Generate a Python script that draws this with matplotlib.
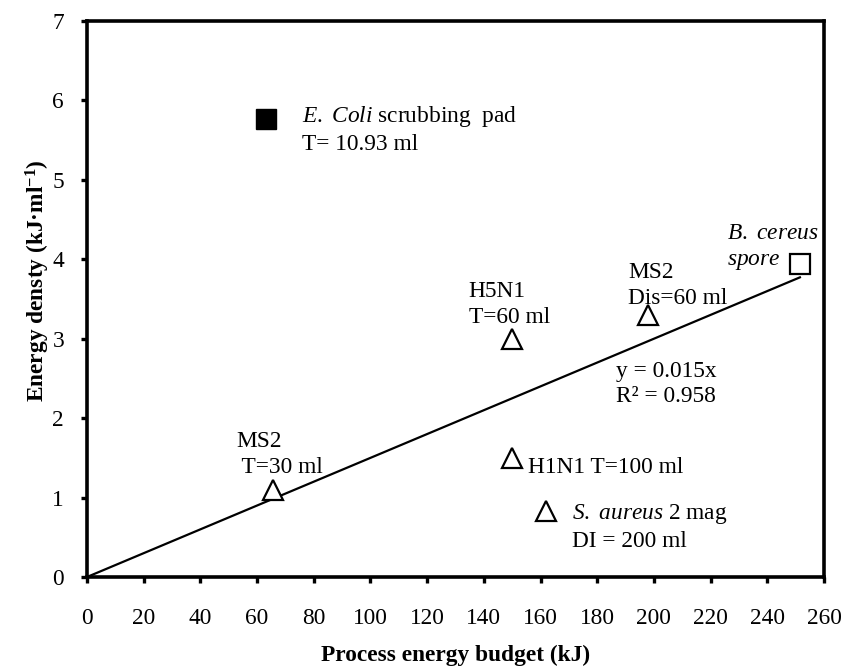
import numpy as np
import matplotlib
matplotlib.use("Agg")
import matplotlib.pyplot as plt

plt.rcParams['font.family'] = ['Liberation Serif', 'DejaVu Serif']
plt.rcParams['mathtext.fontset'] = 'custom'
plt.rcParams['mathtext.rm'] = 'Liberation Serif'
plt.rcParams['mathtext.it'] = 'Liberation Serif:italic'
plt.rcParams['mathtext.bf'] = 'Liberation Serif:bold'

# viral / bacterial runs (open triangles)
tri_x = [65.5, 150, 198, 150, 162]
tri_y = [1.10, 3.0, 3.30, 1.50, 0.83]
# E. coli scrubbing pad (filled square)
coli_x = [63]
coli_y = [5.77]
# B. cereus spore (open square)
cereus_x = [251.5]
cereus_y = [3.94]

slope = 0.015
r2 = 0.958

# annotation texts with anchor (data coords, left / last-line baseline)
labels = [
    (r"$\mathit{E.}$ $\mathit{Coli}$ scrubbing  pad" + "\nT= 10.93 ml", 75.8, 5.38),
    ("H5N1\nT=60 ml", 134.7, 3.20),
    ("MS2\nDis=60 ml", 190.8, 3.44),
    ("MS2\n T=30 ml", 52.6, 1.31),
    ("H1N1 T=100 ml", 155.6, 1.31),
    (r"$\mathit{S.}$ $\mathit{aureus}$ 2 mag" + "\nDI = 200 ml", 171.1, 0.38),
    (r"$\mathit{B.}$ $\mathit{cereus}$" + "\n" + r"$\mathit{spore}$", 225.7, 3.93),
    ("y = %.3fx\nR² = %.3f" % (slope, r2), 186.6, 2.20),
]

FS = 16.8

fig = plt.figure(figsize=(8.42, 6.70), dpi=100)
ax = fig.add_axes([87 / 842, 1 - 577 / 670, (824 - 87) / 842, (577 - 21) / 670])

xfit = np.array([0, max(tri_x + coli_x + cereus_x)])
ax.plot(xfit, slope * xfit, color='black', lw=1.6, zorder=2)

ax.plot(tri_x, tri_y, linestyle='none', marker='^', markersize=14,
        markerfacecolor='white', markeredgecolor='black', markeredgewidth=1.6, zorder=3)
ax.plot(coli_x, coli_y, linestyle='none', marker='s', markersize=15,
        markerfacecolor='black', markeredgecolor='black', zorder=3)
ax.plot(cereus_x, cereus_y, linestyle='none', marker='s', markersize=15,
        markerfacecolor='white', markeredgecolor='black', markeredgewidth=1.6, zorder=3)

for txt, x, y in labels:
    ax.text(x, y, txt, fontsize=FS, ha='left', va='baseline', linespacing=1.28)

ax.set_xlim(0, 260)
ax.set_ylim(0, 7)
ax.set_xticks(np.arange(0, 261, 20))
ax.set_yticks(np.arange(0, 8, 1))
for s in ax.spines.values():
    s.set_linewidth(2.6)
ax.tick_params(axis='both', direction='out', length=4.5, width=2.4, labelsize=FS)
ax.tick_params(axis='x', pad=18)
ax.tick_params(axis='y', pad=12)

fig.text(456 / 842, 1 - 661 / 670, "Process energy budget (kJ)", fontsize=FS,
         fontweight='bold', ha='center', va='baseline')
fig.text(38 / 842, 1 - 281 / 670, r"Energy densty (kJ·ml$^{\mathbf{-1}}$)", fontsize=FS,
         fontweight='bold', ha='center', va='center', rotation=90)

fig.savefig("out.png", dpi=100)
